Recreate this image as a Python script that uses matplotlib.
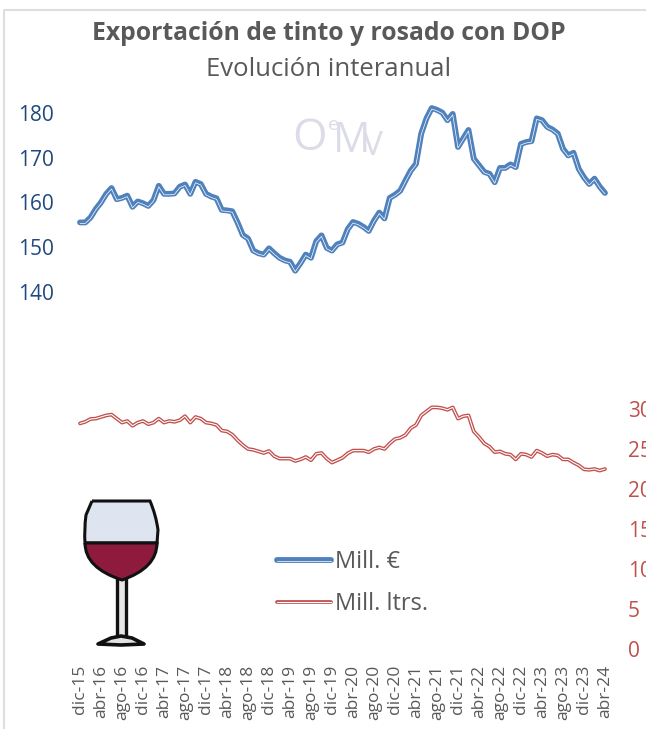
import matplotlib
matplotlib.use("Agg")
import matplotlib.pyplot as plt
import matplotlib.patheffects as pe
from matplotlib.patches import PathPatch, Polygon, Rectangle
from matplotlib.path import Path

plt.rcParams["font.family"] = ["Open Sans", "DejaVu Sans"]

tick_labels = ["dic-15", "abr-16", "ago-16", "dic-16", "abr-17", "ago-17", "dic-17",
               "abr-18", "ago-18", "dic-18", "abr-19", "ago-19", "dic-19", "abr-20",
               "ago-20", "dic-20", "abr-21", "ago-21", "dic-21", "abr-22", "ago-22",
               "dic-22", "abr-23", "ago-23", "dic-23", "abr-24"]

mill_eur = [155.5, 155.5, 156.6, 158.5, 160.0, 161.9, 163.2, 160.7, 161.0, 161.5,
            159.0, 160.2, 159.8, 159.2, 160.5, 163.7, 161.9, 161.9, 162.0, 163.5,
            164.0, 161.9, 164.6, 164.1, 161.9, 161.3, 160.9, 158.3, 158.2, 158.0,
            155.5, 152.7, 151.9, 149.2, 148.6, 148.3, 149.7, 148.6, 147.6, 147.0,
            146.7, 144.7, 146.4, 148.3, 147.6, 151.3, 152.6, 149.8, 149.2, 150.6,
            151.0, 154.0, 155.6, 155.2, 154.5, 153.6, 155.9, 157.7, 156.4, 161.0,
            161.7, 162.6, 164.9, 167.1, 168.6, 175.4, 178.8, 181.1, 180.7, 180.1,
            178.4, 179.8, 172.4, 174.3, 176.2, 169.8, 168.3, 166.8, 166.4, 164.5,
            167.7, 167.7, 168.5, 167.9, 173.1, 173.5, 173.7, 178.8, 178.4, 176.9,
            176.3, 175.4, 172.0, 170.5, 171.1, 167.5, 165.6, 164.1, 165.3, 163.5,
            162.1]

mill_ltrs = [28.2, 28.4, 28.75, 28.8, 29.0, 29.2, 29.3, 28.8, 28.3, 28.5,
             27.9, 28.3, 28.5, 28.1, 28.3, 28.8, 28.3, 28.5, 28.4, 28.6,
             29.1, 28.3, 29.0, 28.8, 28.3, 28.2, 28.0, 27.3, 27.2, 26.8,
             26.1, 25.5, 25.0, 24.9, 24.7, 24.5, 24.75, 24.1, 23.8, 23.8,
             23.8, 23.5, 23.7, 24.0, 23.6, 24.4, 24.5, 23.8, 23.3, 23.6,
             23.9, 24.46, 24.8, 24.8, 24.8, 24.6, 25.0, 25.2, 25.0, 25.7,
             26.25, 26.4, 26.75, 27.6, 28.0, 29.2, 29.7, 30.2, 30.2, 30.1,
             29.9, 30.2, 28.8, 29.1, 29.2, 27.2, 26.5, 25.7, 25.3, 24.6,
             24.7, 24.4, 24.3, 23.7, 24.4, 24.3, 24.0, 24.8, 24.5, 24.1,
             24.3, 24.2, 23.7, 23.7, 23.3, 22.96, 22.46, 22.4, 22.5, 22.3,
             22.5]

left_ticks = [140, 150, 160, 170, 180]
right_ticks = [0, 5, 10, 15, 20, 25, 30]

W, H = 646, 729
BLUE, RED = "#4f81bd", "#c0504d"
GREY = "#595959"
MARK = "#dcdce8"
NARROW = ["Liberation Sans Narrow", "Open Sans"]

fig = plt.figure(figsize=(W / 100, H / 100), dpi=100)

# pixel canvas for the frame, the glass and the watermark
bg = fig.add_axes([0, 0, 1, 1], zorder=0)
bg.set_xlim(0, W)
bg.set_ylim(H, 0)
bg.axis("off")
bg.plot([4, 4, W], [H, 10, 10], color="#dedede", lw=1.5)

# wine glass, traced by eye
C3, L, M = Path.CURVE3, Path.LINETO, Path.MOVETO
upper = Path([(92, 501), (150, 501), (156, 515), (158, 530), (157, 543), (85, 543),
              (84, 530), (86, 515), (92, 501)],
             [M, L, C3, C3, L, L, C3, C3, L])
lower = Path([(85, 543), (157, 543), (157, 568), (122, 580), (85, 568), (85, 543)],
             [M, L, C3, C3, C3, C3])
bg.add_patch(Rectangle((117, 578), 9, 60, fc="#e6e6e6", ec="#111111", lw=2.4))
bg.add_patch(PathPatch(upper, fc="#dfe5f0", ec="#111111", lw=2.2))
bg.add_patch(PathPatch(lower, fc="#8e1b3e", ec="#111111", lw=2.2))
foot = [(98, 644), (111, 638), (121, 636), (132, 638), (144, 644), (121, 645)]
bg.add_patch(Polygon(foot, fc="#e3e3e3", ec="#111111", lw=2.6, joinstyle="round"))

bg.text(310, 139, "O", fontsize=32, color=MARK, family=NARROW, ha="center", va="center")
bg.text(333, 125, "e", fontsize=14, color=MARK, family=NARROW, ha="center", va="center")
bg.text(352, 141, "M", fontsize=30, color=MARK, family=NARROW, ha="center", va="center")
bg.text(373, 146, "V", fontsize=24, color=MARK, family=NARROW, ha="center", va="center")

# chart area, y 113 to 649 on the canvas
ax_left = 77.4 / W
ax_width = (607.6 - 77.4) / W
ax_bottom = (H - 649) / H
ax_height = (649 - 113) / H
ax = fig.add_axes([ax_left, ax_bottom, ax_width, ax_height], zorder=2)
ax.patch.set_alpha(0)
ax2 = ax.twinx()

x = list(range(len(mill_eur)))
line_eur, = ax.plot(x, mill_eur, color=BLUE, lw=4.2, label="Mill. €", clip_on=False,
                    solid_capstyle="round", solid_joinstyle="round",
                    path_effects=[pe.Normal(),
                                  pe.Stroke(linewidth=0.5, foreground="white", offset=(0, -0.7))])
line_ltr, = ax2.plot(x, mill_ltrs, color=RED, lw=2.7, label="Mill. ltrs.", clip_on=False,
                     solid_capstyle="round", solid_joinstyle="round",
                     path_effects=[pe.Normal(),
                                   pe.Stroke(linewidth=0.8, foreground="white")])

ax.set_xlim(-0.5, 100.5)
ax.set_ylim(60, 180)
ax2.set_ylim(0, 67)
ax.set_xticks(x[::4])
ax.set_xticklabels(tick_labels, rotation=90, fontsize=12.5, color=GREY, va="top", ha="center")
ax.set_yticks(left_ticks)
ax.set_yticklabels([str(v) for v in left_ticks], fontsize=15, color="#1f497d")
ax2.set_yticks(right_ticks)
ax2.set_yticklabels([str(v) for v in right_ticks], fontsize=15, color=RED)
ax.tick_params(axis="x", length=0, pad=11.5)
ax.tick_params(axis="y", length=0, pad=17)
ax2.tick_params(axis="y", length=0, pad=14.5)
for a in (ax, ax2):
    for s in a.spines.values():
        s.set_visible(False)

fig.legend(handles=[line_eur, line_ltr], loc="center left",
           bbox_to_anchor=(277 / W, 1 - 583 / H), frameon=False, fontsize=17,
           labelcolor=GREY, handlelength=2.3, handletextpad=0.15, labelspacing=0.75,
           borderpad=0, borderaxespad=0)

fig.text(329 / W, 1 - 34 / H, "Exportación de tinto y rosado con DOP", fontsize=17.8,
         fontweight="bold", color=GREY, ha="center", va="center")
fig.text(329 / W, 1 - 70 / H, "Evolución interanual", fontsize=18.5, color=GREY,
         ha="center", va="center")

fig.savefig("out.png", dpi=100)
